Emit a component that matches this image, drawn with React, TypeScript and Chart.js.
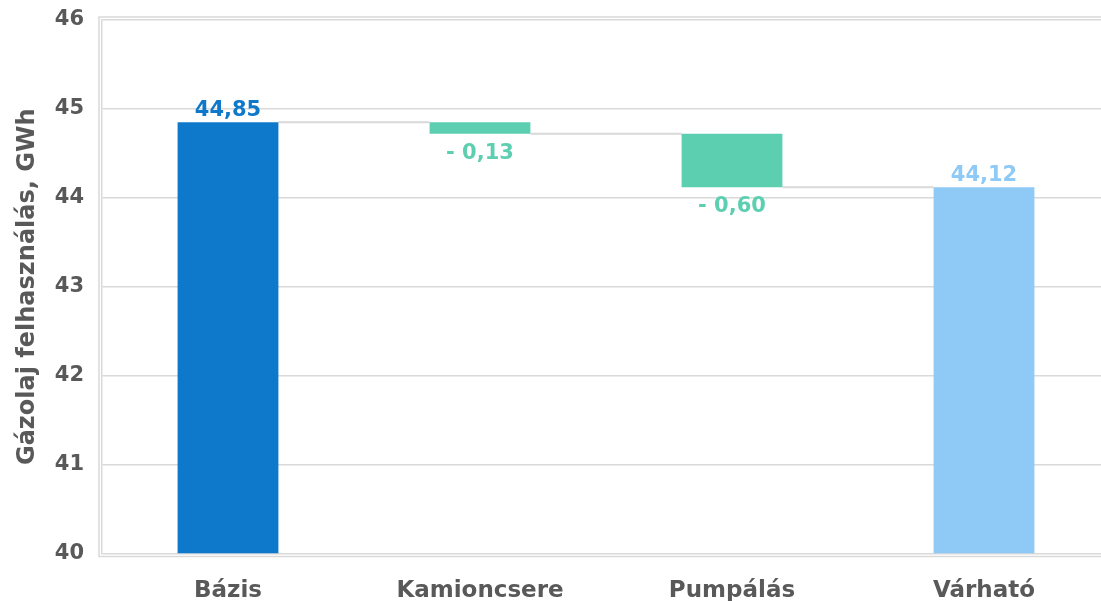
import React, { useEffect, useRef } from 'react';
import { Chart, registerables } from 'chart.js';

Chart.register(...registerables);

// ---- data ----
const categories = ['Bázis', 'Kamioncsere', 'Pumpálás', 'Várható'];
const startValue = 44.85;
const changes = [-0.13, -0.6];
const endValue = 44.12;
const yMin = 40;
const yMax = 46;
const yStep = 1;
const axisTitle = 'Gázolaj felhasználás, GWh';

// ---- styles ----
const barColors = ['#0E78CB', '#5DCFB1', '#5DCFB1', '#8FC9F5'];
const textGrey = '#595959';
const gridGrey = '#d9d9d9';
const FONT = '"DejaVu Sans", sans-serif';

const fmt = (v: number) => Math.abs(v).toFixed(2).replace('.', ',');

// build floating ranges from the running total
const ranges: [number, number][] = [];
const runningTotals: number[] = [];
ranges.push([yMin, startValue]);
runningTotals.push(startValue);
let total = startValue;
changes.forEach((c) => {
  const next = total + c;
  ranges.push([Math.min(total, next), Math.max(total, next)]);
  total = next;
  runningTotals.push(total);
});
ranges.push([yMin, endValue]);
const allValues = [startValue, ...changes, endValue];
const labelTexts = allValues.map((v, i) =>
  i === 0 || i === allValues.length - 1 ? fmt(v) : (v < 0 ? '- ' : '+ ') + fmt(v)
);

const waterfallPlugin = {
  id: 'waterfallExtras',
  beforeDatasetsDraw(chart: any) {
    const { ctx, chartArea } = chart;
    const y = chart.scales.y;
    const meta = chart.getDatasetMeta(0);
    ctx.save();
    // outer frame
    ctx.strokeStyle = gridGrey;
    ctx.lineWidth = 1.5;
    ctx.strokeRect(chartArea.left - 3, chartArea.top - 3, chartArea.right - chartArea.left + 6, chartArea.bottom - chartArea.top + 6);
    // connectors
    ctx.lineWidth = 2;
    for (let i = 0; i < runningTotals.length; i++) {
      const a = meta.data[i];
      const b = meta.data[i + 1];
      if (!a || !b) continue;
      const yy = y.getPixelForValue(runningTotals[i]);
      ctx.beginPath();
      ctx.moveTo(a.x + a.width / 2, yy);
      ctx.lineTo(b.x - b.width / 2, yy);
      ctx.stroke();
    }
    ctx.restore();
  },
  afterDatasetsDraw(chart: any) {
    const { ctx } = chart;
    const y = chart.scales.y;
    const meta = chart.getDatasetMeta(0);
    ctx.save();
    ctx.font = `bold 21px ${FONT}`;
    ctx.textAlign = 'center';
    meta.data.forEach((bar: any, i: number) => {
      const v = allValues[i];
      ctx.fillStyle = barColors[i];
      if (v < 0) {
        ctx.textBaseline = 'top';
        ctx.fillText(labelTexts[i], bar.x, y.getPixelForValue(ranges[i][0]) + 9);
      } else {
        ctx.textBaseline = 'alphabetic';
        ctx.fillText(labelTexts[i], bar.x, y.getPixelForValue(ranges[i][1]) - 6);
      }
    });
    ctx.restore();
  },
};

export default function App() {
  const ref = useRef<HTMLCanvasElement | null>(null);
  useEffect(() => {
    if (!ref.current) return;
    const chart = new Chart(ref.current, {
      type: 'bar',
      data: {
        labels: categories,
        datasets: [
          {
            data: ranges as any,
            backgroundColor: barColors,
            borderWidth: 0,
            barPercentage: 0.4,
            categoryPercentage: 1,
          },
        ],
      },
      plugins: [waterfallPlugin],
      options: {
        animation: false,
        responsive: false,
        layout: { padding: { left: 0, top: 20, right: 10, bottom: 0 } },
        plugins: { legend: { display: false }, tooltip: { enabled: false } },
        scales: {
          x: {
            grid: { display: false },
            border: { display: false },
            ticks: {
              color: textGrey,
              font: { family: FONT, size: 23, weight: 'bold' },
              padding: 16,
            },
            afterFit: (s: any) => {
              s.height = 66.5;
            },
          },
          y: {
            min: yMin,
            max: yMax,
            ticks: {
              stepSize: yStep,
              color: textGrey,
              font: { family: FONT, size: 21, weight: 'bold' },
              padding: 18,
            },
            grid: { color: gridGrey, lineWidth: 1.5, drawTicks: false },
            border: { display: true, color: gridGrey, width: 1.5 },
            title: {
              display: true,
              text: axisTitle,
              color: textGrey,
              font: { family: FONT, size: 24, weight: 'bold' },
              padding: { top: 13, bottom: 0 },
            },
            afterFit: (s: any) => {
              s.width = 102;
              s.paddingTop = 0;
              s.paddingBottom = 0;
            },
          },
        },
      },
    });
    return () => chart.destroy();
  }, []);
  return (
    <div style={{ position: 'fixed', left: 0, top: 0, width: 1101, height: 601, overflow: 'hidden', background: '#fff' }}>
      <canvas ref={ref} width={1120} height={620} style={{ display: 'block' }} />
    </div>
  );
}
